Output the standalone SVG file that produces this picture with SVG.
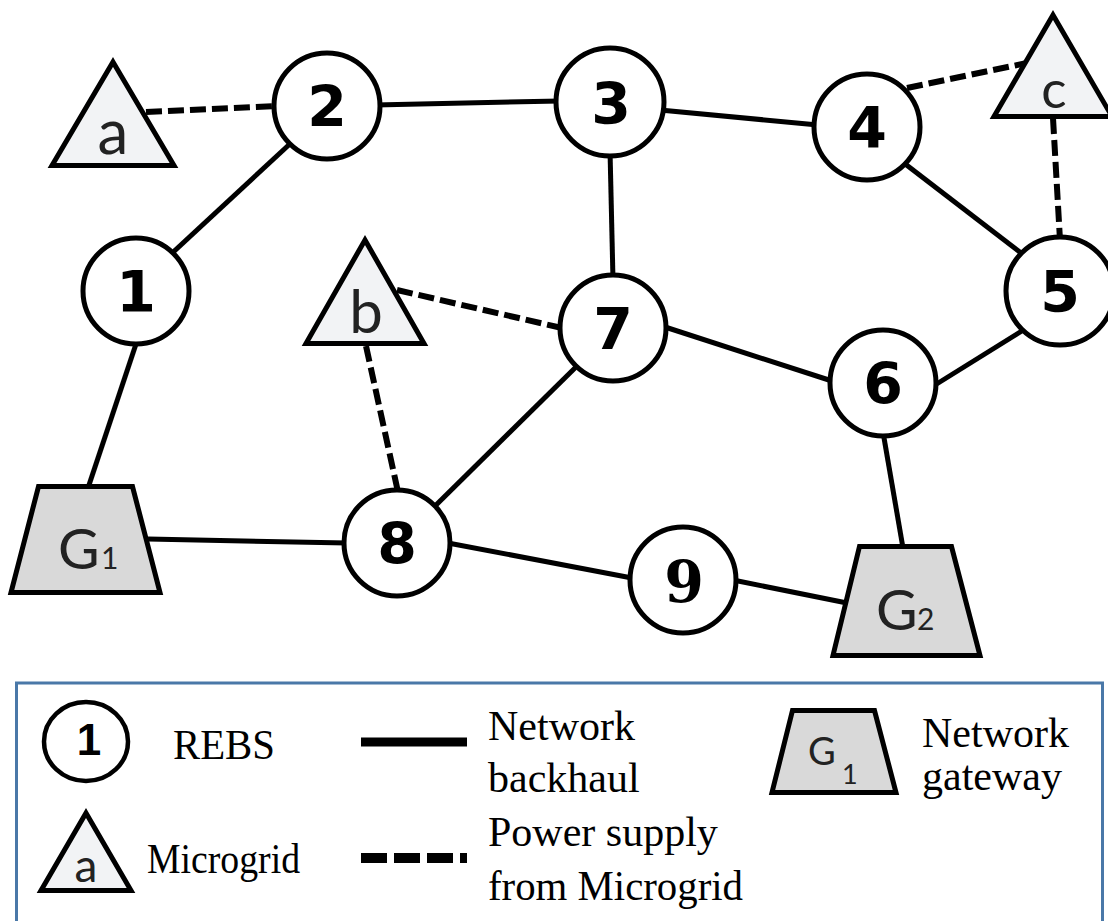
<svg xmlns="http://www.w3.org/2000/svg" width="1108" height="921" viewBox="0 0 1108 921">
  <style>
    .bg { fill: #ffffff; }
    .link { stroke: #000; stroke-width: 5; fill: none; stroke-linecap: butt; }
    .power { stroke: #000; stroke-width: 6; fill: none; stroke-dasharray: 16 6; }
    .rebs { fill: #ffffff; stroke: #000; stroke-width: 5; }
    .mg { fill: #f2f3f5; stroke: #000; stroke-width: 5; stroke-linejoin: miter; }
    .gw { fill: #d9d9d9; stroke: #000; stroke-width: 5; stroke-linejoin: miter; }
    .num { font-family: "DejaVu Sans", "Liberation Sans", sans-serif; font-weight: bold; font-size: 57px; text-anchor: middle; fill: #000; }
    .num9 { font-family: "DejaVu Serif", "Liberation Serif", serif; font-weight: bold; font-size: 57px; text-anchor: middle; fill: #000; }
    .lbl { font-family: Lato, "Open Sans", sans-serif; fill: #222; }
    .leg { font-family: "Liberation Serif", "Times New Roman", serif; font-size: 42px; fill: #000; }
  </style>

  <rect class="bg" x="0" y="0" width="1108" height="921"/>

  <!-- backhaul and power-supply connectors -->
  <g id="connectors">
    <line class="link" x1="170" y1="255" x2="292" y2="142"/>
    <line class="link" x1="139" y1="335" x2="88" y2="488"/>
    <line class="link" x1="375" y1="105" x2="560" y2="101"/>
    <line class="link" x1="660" y1="110" x2="818" y2="125"/>
    <line class="link" x1="610" y1="150" x2="613" y2="280"/>
    <line class="link" x1="900" y1="160" x2="1025" y2="256"/>
    <line class="link" x1="1025" y1="329" x2="935" y2="385"/>
    <line class="link" x1="665" y1="327" x2="832" y2="381"/>
    <line class="link" x1="578" y1="365" x2="432" y2="509"/>
    <line class="link" x1="883" y1="432" x2="903" y2="548"/>
    <line class="link" x1="148" y1="539" x2="347" y2="543"/>
    <line class="link" x1="448" y1="543" x2="632" y2="578"/>
    <line class="link" x1="733" y1="580" x2="847" y2="603"/>

    <line class="power" x1="146" y1="112" x2="276" y2="106"/>
    <line class="power" x1="907" y1="88" x2="1027" y2="63"/>
    <line class="power" x1="1053" y1="118" x2="1060" y2="240"/>
    <line class="power" x1="397" y1="290" x2="562" y2="328"/>
    <line class="power" x1="366" y1="346" x2="398" y2="492"/>
  </g>

  <!-- microgrids -->
  <g id="mg-a">
    <polygon class="mg" points="113,62 174,165.5 52,165.5"/>
    <text class="lbl" x="113" y="154" font-size="62" text-anchor="middle">a</text>
  </g>
  <g id="mg-b">
    <polygon class="mg" points="365,240 424,343.5 306,343.5"/>
    <text class="lbl" x="366" y="333" font-size="60" text-anchor="middle">b</text>
  </g>
  <g id="mg-c">
    <polygon class="mg" points="1053,15 1112,116.5 994,116.5"/>
    <text class="lbl" x="1054" y="108" font-size="53" text-anchor="middle">c</text>
  </g>

  <!-- gateways -->
  <g id="gw-1">
    <polygon class="gw" points="38.5,486.5 132.5,486.5 160,592.5 11,592.5"/>
    <text class="lbl" x="58" y="569" font-size="57">G</text>
    <text class="lbl" x="101" y="569" font-size="30">1</text>
  </g>
  <g id="gw-2">
    <polygon class="gw" points="859.5,546.5 951.5,546.5 980,655.5 833,655.5"/>
    <text class="lbl" x="876" y="630" font-size="57">G</text>
    <text class="lbl" x="917" y="630" font-size="30">2</text>
  </g>

  <!-- REBS nodes -->
  <g id="n1"><circle class="rebs" cx="136" cy="291" r="53"/><text class="num" x="136" y="312">1</text></g>
  <g id="n2"><circle class="rebs" cx="327" cy="106" r="53"/><text class="num" x="327" y="127">2</text></g>
  <g id="n3"><circle class="rebs" cx="610" cy="102" r="54"/><text class="num" x="611" y="124">3</text></g>
  <g id="n4"><circle class="rebs" cx="867" cy="127" r="53"/><text class="num" x="867" y="148">4</text></g>
  <g id="n5"><circle class="rebs" cx="1060" cy="291" r="54"/><text class="num" x="1060" y="312">5</text></g>
  <g id="n6"><circle class="rebs" cx="883" cy="383" r="53"/><text class="num" x="883" y="404">6</text></g>
  <g id="n7"><circle class="rebs" cx="613" cy="328" r="53"/><text class="num" x="613" y="349">7</text></g>
  <g id="n8"><circle class="rebs" cx="397" cy="543" r="53"/><text class="num" x="397" y="564">8</text></g>
  <g id="n9"><circle class="rebs" cx="683" cy="580" r="53"/><text class="num9" x="684" y="602">9</text></g>

  <!-- legend -->
  <g id="legend">
    <rect x="16.5" y="683" width="1086" height="260" fill="#ffffff" stroke="#4a78a8" stroke-width="3"/>

    <ellipse cx="86" cy="741.5" rx="42" ry="39.5" fill="#ffffff" stroke="#000" stroke-width="4.5"/>
    <text x="89" y="755" font-family="'Liberation Sans', Arial, sans-serif" font-weight="bold" font-size="44" text-anchor="middle">1</text>
    <text class="leg" x="173" y="759" textLength="102" lengthAdjust="spacingAndGlyphs">REBS</text>

    <polygon class="mg" points="86,813 131,890.5 41,890.5"/>
    <text class="lbl" x="86" y="882" font-size="46" text-anchor="middle">a</text>
    <text class="leg" x="147" y="873" textLength="153" lengthAdjust="spacingAndGlyphs">Microgrid</text>

    <line x1="361" y1="742" x2="467" y2="742" stroke="#000" stroke-width="9"/>
    <text class="leg" x="488" y="740">Network</text>
    <text class="leg" x="488" y="792">backhaul</text>

    <line x1="361" y1="858" x2="467" y2="858" stroke="#000" stroke-width="10" stroke-dasharray="26 7"/>
    <text class="leg" x="488" y="846">Power supply</text>
    <text class="leg" x="488" y="900" textLength="255" lengthAdjust="spacingAndGlyphs">from Microgrid</text>

    <polygon class="gw" points="792.5,710.5 874.5,710.5 896,792.5 772,792.5"/>
    <text class="lbl" x="808" y="765" font-size="38">G</text>
    <text class="lbl" x="842" y="784" font-size="27">1</text>
    <text class="leg" x="922" y="747">Network</text>
    <text class="leg" x="922" y="790">gateway</text>
  </g>
</svg>
